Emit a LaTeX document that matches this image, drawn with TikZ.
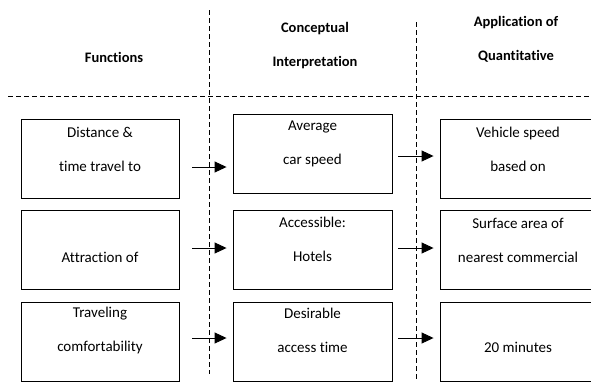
\documentclass[tikz,border=0pt]{standalone}
\usepackage{fontspec}
\setmainfont{Carlito}[Ligatures=CommonOff]
\usetikzlibrary{arrows.meta}

\begin{document}
\begin{tikzpicture}[x=1pt, y=-1pt,
	cell/.style={draw=black, line width=0.9pt, minimum width=#1, minimum height=79pt, inner sep=0pt},
	cell/.default=158pt,
	txt/.style={align=center, inner sep=0pt, font=\fontsize{15}{34}\selectfont},
	head/.style={align=center, inner sep=0pt, font=\bfseries\fontsize{14.5}{34}\selectfont},
	divider/.style={line width=0.9pt, dash pattern=on 5pt off 3pt},
	arr/.style={line width=0.9pt, -{Triangle[length=12pt, width=11pt]}}]
		%%%%% START %%%%%
		\useasboundingbox (0, 0) rectangle (591, 381);
		
		% column dividers
		\draw[divider] (8, 96) -- (591, 96);
		\draw[divider] (209, 10) -- (209, 374);
		\draw[divider] (416, 22) -- (416, 381);
		
		% headings
		\node[head] (hfun) at (114, 57) {Functions};
		\node[head] (hcon) at (315, 45.5) {Conceptual\\Interpretation};
		\node[head] (happ) at (516, 39.5) {Application of\\Quantitative};
		
		% boxes
		\node[cell] (f1) at (100, 158.5) {};
		\node[cell] (f2) at (100, 250) {};
		\node[cell] (f3) at (100, 342) {};
		
		\node[cell=159pt] (c1) at (312.5, 153.5) {};
		\node[cell=159pt] (c2) at (312.5, 250) {};
		\node[cell=159pt] (c3) at (312.5, 342) {};
		
		\node[cell=156pt] (a1) at (518, 159) {};
		\node[cell=156pt] (a2) at (518, 250) {};
		\node[cell=156pt] (a3) at (518, 342) {};
		
		% texts
		\node[txt] (f1t) at (100, 149.5) {Distance \&\\time travel to};
		\node[txt] (f2t) at (100, 257) {Attraction of};
		\node[txt] (f3t) at (100, 330.5) {Traveling\\comfortability};
		
		\node[txt] (c1t) at (312.5, 144) {Average\\car speed};
		\node[txt] (c2t) at (312.5, 239.5) {Accessible:\\Hotels};
		\node[txt] (c3t) at (312.5, 330.5) {Desirable\\access time};
		
		\node[txt] (a1t) at (518, 149.5) {Vehicle speed\\based on};
		\node[txt] (a2t) at (518, 240) {Surface area of\\nearest commercial};
		\node[txt] (a3t) at (518, 347) {20 minutes};
		
		% arrows
		\draw[arr] ([xshift=13pt]f1.east |- 0, 167) -- ([xshift=-6pt]c1.west |- 0, 167);
		\draw[arr] ([xshift=6pt]c1.east |- 0, 156) -- ([xshift=-6pt]a1.west |- 0, 156);
		
		\draw[arr] ([xshift=13pt]f2.east |- 0, 248) -- ([xshift=-6pt]c2.west |- 0, 248);
		\draw[arr] ([xshift=6pt]c2.east |- 0, 248) -- ([xshift=-6pt]a2.west |- 0, 248);
		
		\draw[arr] ([xshift=13pt]f3.east |- 0, 338) -- ([xshift=-6pt]c3.west |- 0, 338);
		\draw[arr] ([xshift=6pt]c3.east |- 0, 338) -- ([xshift=-6pt]a3.west |- 0, 338);
		%%%%% END %%%%%
\end{tikzpicture}
\end{document}
